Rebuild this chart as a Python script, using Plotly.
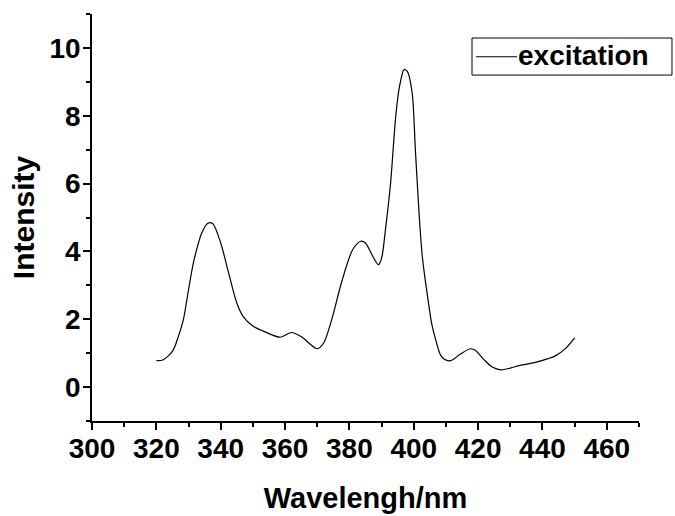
import plotly.graph_objects as go

wavelength = [320, 322, 325, 326.7, 328.4, 330, 331.5, 332.8, 334.1, 336, 337.5, 340, 342.5,
              345, 347, 350, 354, 358.5, 362, 365, 370, 372, 374.5, 377.5, 381, 383.5, 385,
              387, 389, 390, 391.2, 392.8, 394.3, 395.4, 397, 398, 399.5, 400.5, 401.6,
              402.6, 403.5, 404.7, 405.5, 406.8, 408.3, 409.5, 411.5, 414.6, 417.7, 419.2,
              421.8, 424.4, 427, 430, 433, 437.5, 441.5, 444, 447.3, 450]
intensity = [0.78, 0.8, 1.05, 1.45, 1.99, 2.87, 3.66, 4.15, 4.54, 4.83, 4.82, 4.25, 3.35,
             2.48, 2.08, 1.8, 1.62, 1.47, 1.61, 1.49, 1.13, 1.3, 1.99, 3.07, 4.05, 4.3, 4.25,
             3.9, 3.61, 3.8, 4.64, 6.02, 7.88, 8.77, 9.36, 9.31, 8.67, 7.0, 5.2,
             3.9, 3.2, 2.4, 1.9, 1.4, 0.95, 0.82, 0.78, 0.98, 1.13, 1.08,
             0.81, 0.59, 0.51, 0.56, 0.64, 0.72, 0.83, 0.92, 1.15, 1.45]

x_ticks = [300, 320, 340, 360, 380, 400, 420, 440, 460]
y_ticks = [0, 2, 4, 6, 8, 10]
series_name = "excitation"

FONT = "Liberation Sans, Arial, sans-serif"

fig = go.Figure()
fig.add_trace(go.Scatter(
    x=wavelength, y=intensity, mode="lines", name=series_name,
    line=dict(color="black", width=1.2, shape="spline", smoothing=0.8),
    showlegend=False,
))

axis_common = dict(
    showline=True, linecolor="black", linewidth=1.5, mirror=False,
    showgrid=False, zeroline=False, automargin=False,
    ticks="outside", ticklen=7, tickwidth=1.5, tickcolor="black",
    tickfont=dict(family=FONT, size=28, color="black", weight="bold"),
)

# legend box drawn in paper coordinates (plot area 92..639 x 14..421 px)
fig.add_shape(type="rect", xref="paper", yref="paper",
              x0=0.6947, x1=1.0603, y0=0.850, y1=0.941,
              line=dict(color="black", width=1), fillcolor="white", layer="above")
fig.add_shape(type="line", xref="paper", yref="paper",
              x0=0.702, x1=0.777, y0=0.895, y1=0.895,
              line=dict(color="black", width=1.2), layer="above")
fig.add_annotation(xref="paper", yref="paper", x=0.775, y=0.897,
                   xanchor="left", yanchor="middle", showarrow=False,
                   text=series_name,
                   font=dict(family=FONT, size=28, color="black", weight="bold"))

fig.update_layout(
    width=675, height=516,
    margin=dict(l=92, r=36, t=14, b=95),
    paper_bgcolor="white", plot_bgcolor="white",
    showlegend=False,
    xaxis=dict(
        range=[300, 470], tickvals=x_ticks, ticktext=[str(v) for v in x_ticks],
        minor=dict(ticks="outside", dtick=10, tick0=300, ticklen=4, tickwidth=1.5, tickcolor="black"),
        ticklabelstandoff=-5,
        title=dict(text="Wavelengh/nm", standoff=24,
                   font=dict(family=FONT, size=29, color="black", weight="bold")),
        **axis_common,
    ),
    yaxis=dict(
        range=[-1, 11], tickvals=y_ticks, ticktext=[str(v) for v in y_ticks],
        minor=dict(ticks="outside", dtick=1, tick0=-1, ticklen=4, tickwidth=1.5, tickcolor="black"),
        ticklabelstandoff=-3,
        title=dict(text="Intensity", standoff=6,
                   font=dict(family=FONT, size=30, color="black", weight="bold")),
        **axis_common,
    ),
)

fig.write_html("out.html")
